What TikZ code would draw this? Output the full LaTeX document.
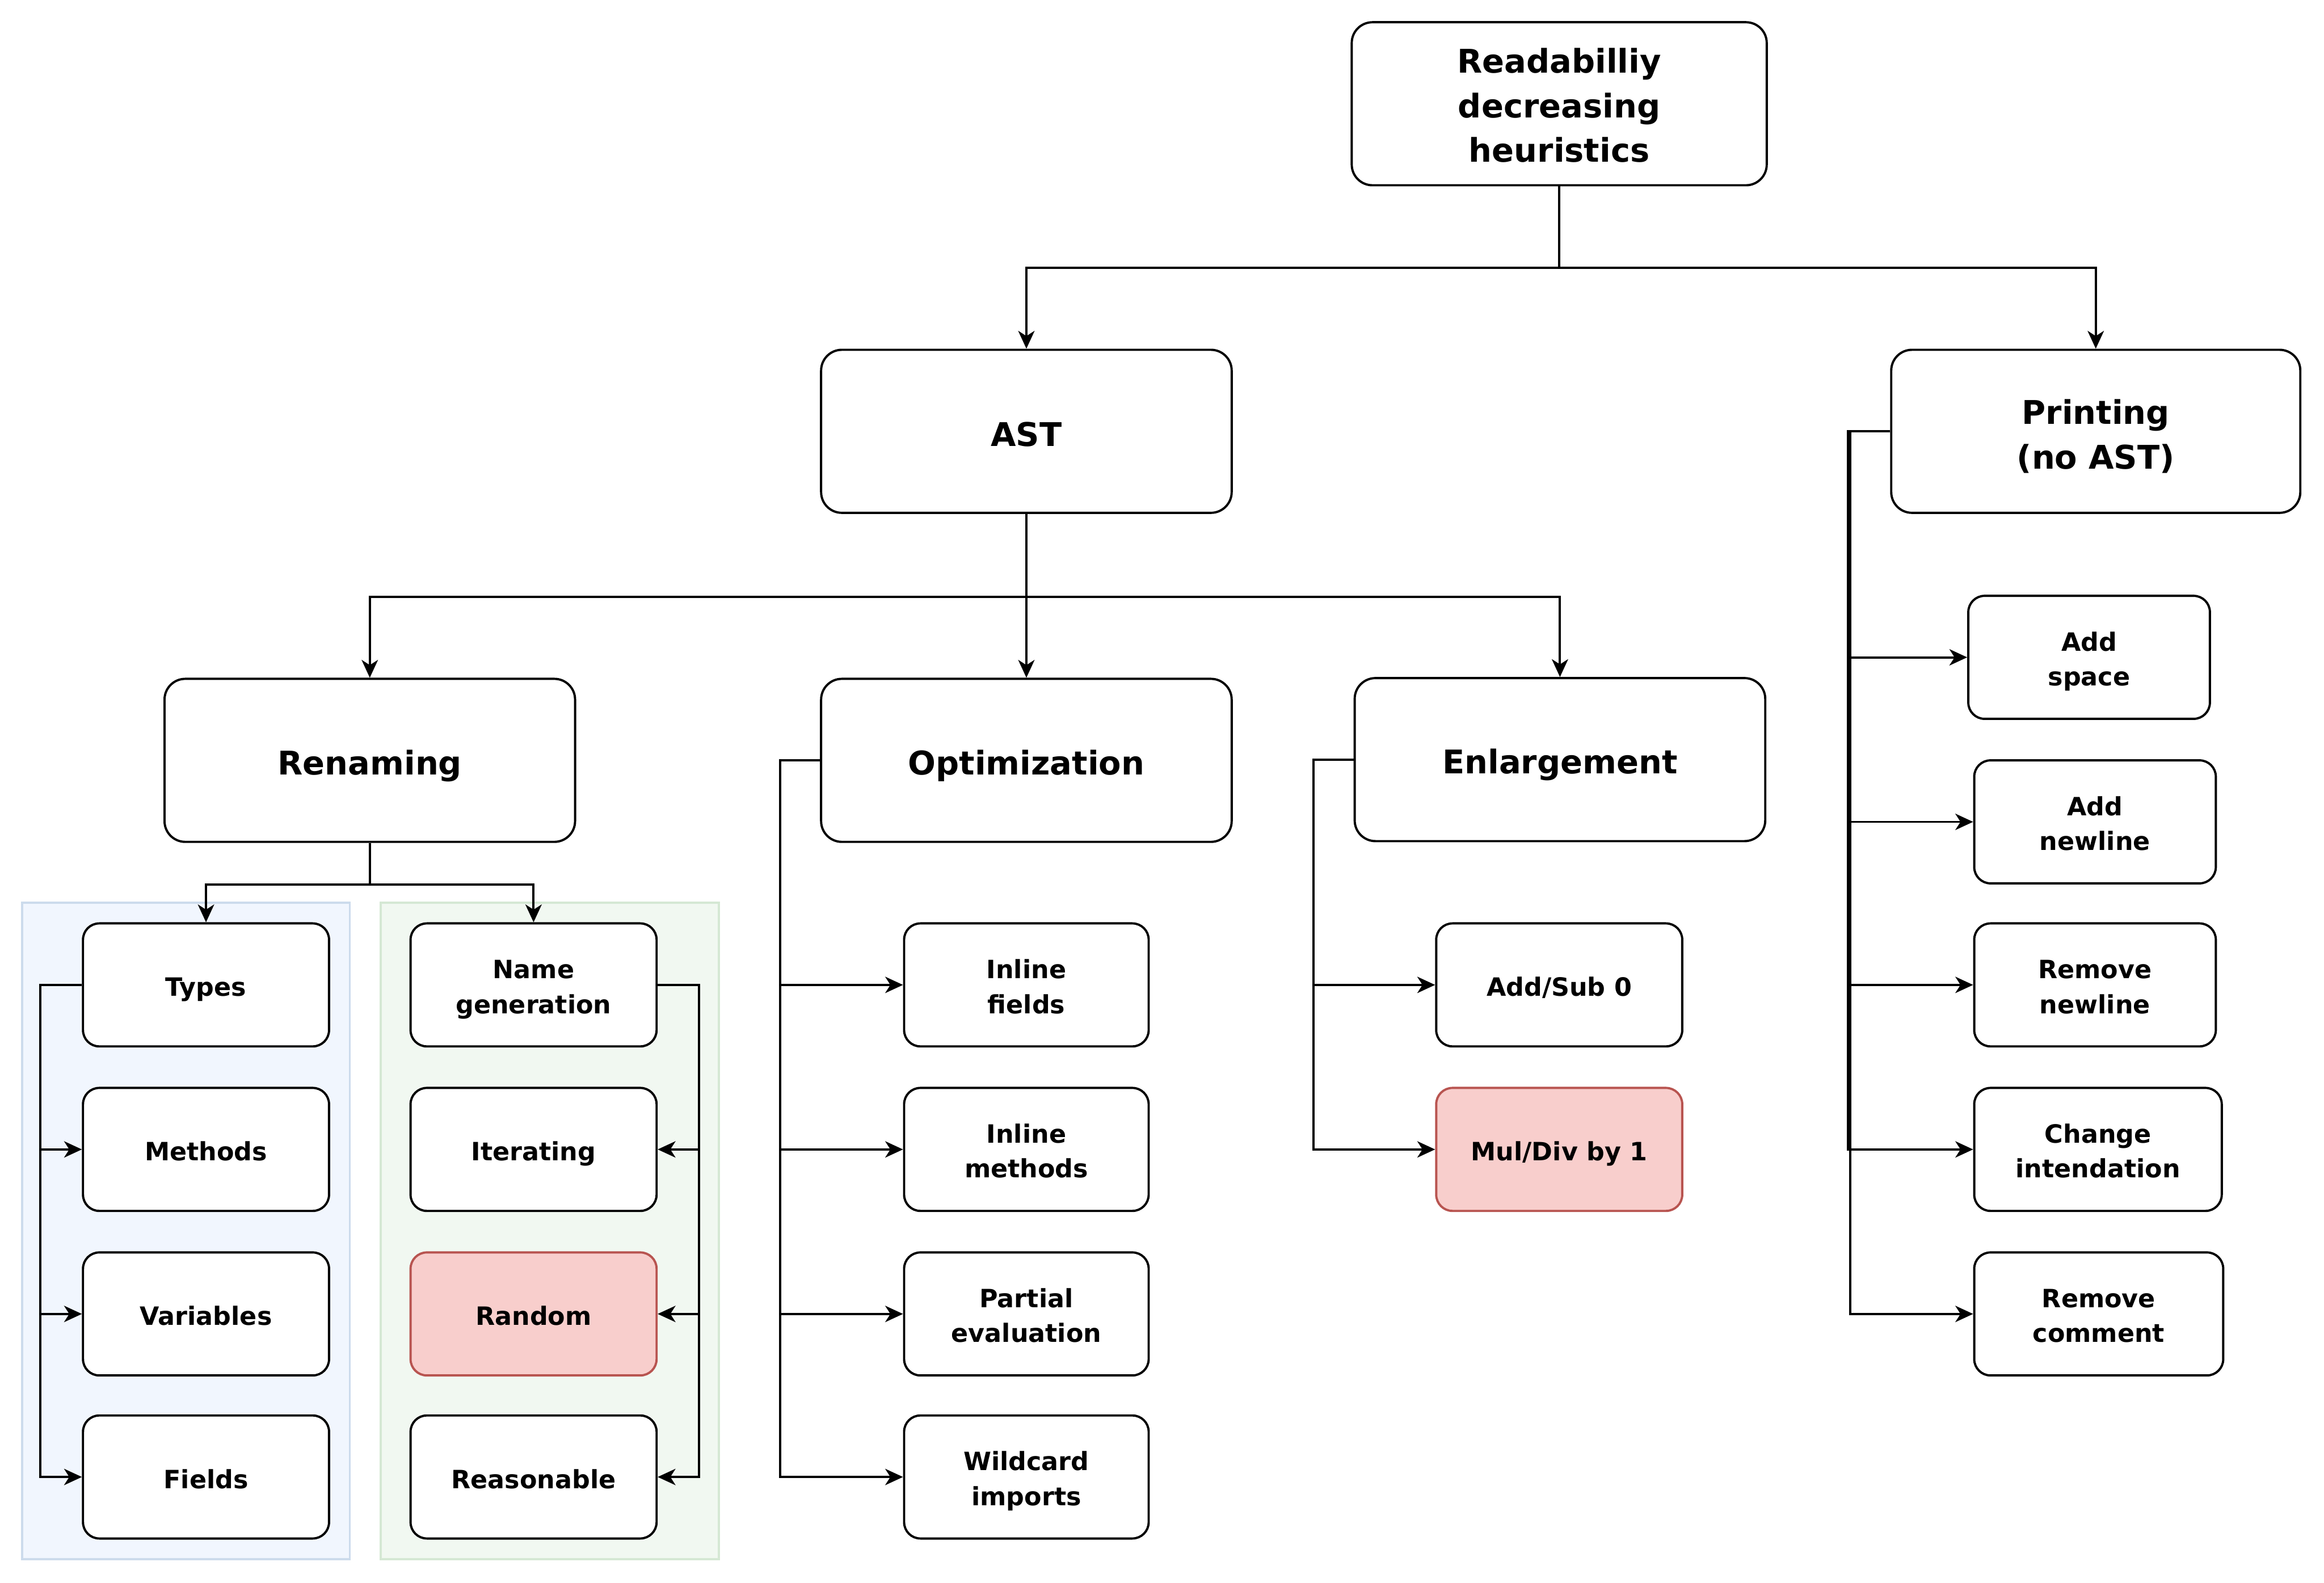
\documentclass[tikz,border=0pt]{standalone}
\usepackage{fontspec}
\setmainfont{DejaVu Sans}
\usetikzlibrary{arrows.meta}
\definecolor{redfill}{HTML}{F8CECC}
\definecolor{redline}{HTML}{B85450}
\definecolor{bluefill}{HTML}{F1F6FE}
\definecolor{blueline}{HTML}{CCDBEC}
\definecolor{greenfill}{HTML}{F1F8F1}
\definecolor{greenline}{HTML}{D5E8D4}
\newcommand\bigstrutbox{\rule[-4.2pt]{0pt}{28.2pt}}
\newcommand\smallstrutbox{\rule[-4pt]{0pt}{23.3pt}}
\newcommand\smalltwostrut{\rule[-4.5pt]{0pt}{47.4pt}}
\newcommand\bigtwostrut{\rule[-5.5pt]{0pt}{61.5pt}}
\newcommand\bigthreestrut{\rule[-5.5pt]{0pt}{89.5pt}}
\tikzset{
  bigbox/.style={draw, line width=1.5pt, rounded corners=14pt, fill=white, align=center, inner sep=0pt,
    minimum width=277pt, minimum height=110pt, font=\bfseries\fontsize{22}{30}\selectfont,
    execute at begin node=\bigstrutbox, execute at end node=\bigstrutbox},
  smallbox/.style={draw, line width=1.5pt, rounded corners=11pt, fill=white, align=center, inner sep=0pt,
    minimum width=166pt, minimum height=83pt, font=\bfseries\fontsize{17}{23.5}\selectfont,
    execute at begin node=\smallstrutbox, execute at end node=\smallstrutbox},
  bigtwo/.style={execute at end node=\bigtwostrut},
  bigthree/.style={execute at end node=\bigthreestrut},
  smalltwo/.style={execute at end node=\smalltwostrut},
  redbox/.style={smallbox, fill=redfill, draw=redline},
  grpbox/.style={draw, line width=1.5pt, inner sep=0pt},
  conn/.style={line width=1.5pt, -{Stealth[length=12pt, width=11pt, inset=3.5pt]}},
}
\begin{document}
\begin{tikzpicture}[x=1pt, y=-1pt]
\useasboundingbox (0,0) rectangle (1568,1068);
% group containers
\node[grpbox, fill=bluefill, draw=blueline, minimum width=221pt, minimum height=443pt] (gblue) at (125.5,830.5) {};
\node[grpbox, fill=greenfill, draw=greenline, minimum width=228pt, minimum height=443pt] (ggreen) at (371,830.5) {};
% main nodes
\node[bigbox, bigthree, minimum width=280pt] (top) at (1052,70) {Readabilliy\\decreasing\\heuristics};
\node[bigbox] (ast) at (692.5,291) {AST};
\node[bigbox, bigtwo, minimum width=276pt] (print) at (1414,291) {Printing\\(no AST)};
\node[bigbox] (ren) at (249.5,513) {Renaming};
\node[bigbox] (opt) at (692.5,513) {Optimization};
\node[bigbox] (enl) at (1052.5,512.5) {Enlargement};
% renaming children
\node[smallbox] (types) at (139,664.5) {Types};
\node[smallbox] (methods) at (139,775.5) {Methods};
\node[smallbox] (vars) at (139,886.5) {Variables};
\node[smallbox] (fields) at (139,996.5) {Fields};
\node[smallbox, smalltwo] (namegen) at (360,664.5) {Name\\generation};
\node[smallbox] (iter) at (360,775.5) {Iterating};
\node[redbox] (random) at (360,886.5) {Random};
\node[smallbox] (reas) at (360,996.5) {Reasonable};
% optimization children
\node[smallbox, smalltwo, minimum width=165pt] (inlf) at (692.5,664.5) {Inline\\fields};
\node[smallbox, smalltwo, minimum width=165pt] (inlm) at (692.5,775.5) {Inline\\methods};
\node[smallbox, smalltwo, minimum width=165pt] (partial) at (692.5,886.5) {Partial\\evaluation};
\node[smallbox, smalltwo, minimum width=165pt] (wild) at (692.5,996.5) {Wildcard\\imports};
% enlargement children
\node[smallbox] (addsub) at (1052,664.5) {Add/Sub 0};
\node[redbox] (muldiv) at (1052,775.5) {Mul/Div by 1};
% printing children
\node[smallbox, smalltwo, minimum width=163pt] (addsp) at (1409.5,443.5) {Add\\space};
\node[smallbox, smalltwo, minimum width=163pt] (addnl) at (1413.5,554.5) {Add\\newline};
\node[smallbox, smalltwo, minimum width=163pt] (remnl) at (1413.5,664.5) {Remove\\newline};
\node[smallbox, smalltwo, minimum width=167pt] (change) at (1415.5,775.5) {Change\\intendation};
\node[smallbox, smalltwo, minimum width=168pt] (remcom) at (1416,886.5) {Remove\\comment};
% connectors: tree
\draw[conn] (top.south) -- ++(0,55) -| (ast.north);
\draw[conn] (top.south) -- ++(0,55) -| (print.north);
\draw[conn] (ast.south) -- ++(0,56) -| (ren.north);
\draw[conn] (ast.south) -- (opt.north);
\draw[conn] (ast.south) -- ++(0,56) -| (enl.north);
\draw[conn] (ren.south) -- ++(0,28) -| (types.north);
\draw[conn] (ren.south) -- ++(0,28) -| (namegen.north);
% types group
\draw[conn] (types.west) -- ++(-28,0) |- (methods.west);
\draw[conn] (types.west) -- ++(-28,0) |- (vars.west);
\draw[conn] (types.west) -- ++(-28,0) |- (fields.west);
% name generation group
\draw[conn] (namegen.east) -- ++(28,0) |- (iter.east);
\draw[conn] (namegen.east) -- ++(28,0) |- (random.east);
\draw[conn] (namegen.east) -- ++(28,0) |- (reas.east);
% optimization
\draw[conn] (opt.west) -- ++(-27,0) |- (inlf.west);
\draw[conn] (opt.west) -- ++(-27,0) |- (inlm.west);
\draw[conn] (opt.west) -- ++(-27,0) |- (partial.west);
\draw[conn] (opt.west) -- ++(-27,0) |- (wild.west);
% enlargement
\draw[conn] (enl.west) -- ++(-27,0) |- (addsub.west);
\draw[conn] (enl.west) -- ++(-27,0) |- (muldiv.west);
% printing
\draw[conn] (print.west) -- ++(-27,0) |- (addsp.west);
\draw[conn] (print.west) -- ++(-27,0) |- (addnl.west);
\draw[conn] (print.west) -- ++(-27,0) |- (remnl.west);
\draw[conn] (print.west) -- ++(-28.5,0) |- (change.west);
\draw[conn] (print.west) -- ++(-27,0) |- (remcom.west);
\end{tikzpicture}
\end{document}
